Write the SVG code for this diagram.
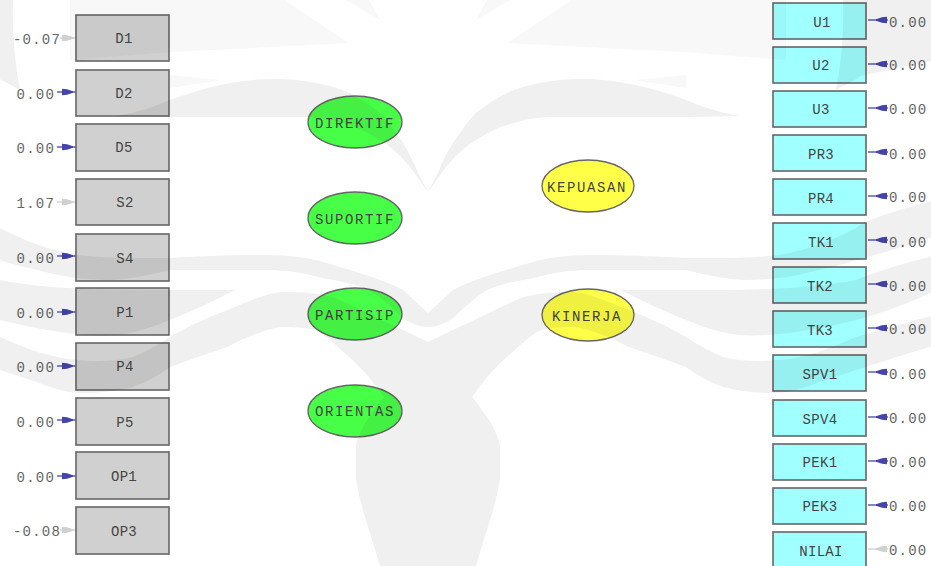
<svg xmlns="http://www.w3.org/2000/svg" width="931" height="566" viewBox="0 0 931 566">
<style>
text{font-family:"Liberation Mono","DejaVu Sans Mono",monospace;fill:#444;text-anchor:middle}
.l{font-size:14px;letter-spacing:.3px}
.o{font-size:14px;letter-spacing:1.6px}
.v{font-size:14px;letter-spacing:1.2px;fill:#666}
.vl{text-anchor:end}
.vr{text-anchor:start}
.g{fill:#d0d0d0;stroke:#666;stroke-width:1.6}
.c{fill:#a0ffff;stroke:#666;stroke-width:1.6}
.e1{fill:#48ff48;stroke:#666;stroke-width:1.3}
.e2{fill:#ffff48;stroke:#666;stroke-width:1.3}
.a{stroke:#44a;stroke-width:1.3;fill:none;marker-mid:url(#h)}
.b{stroke:#d0d0d0;stroke-width:1.3;fill:none;marker-mid:url(#k)}
</style>
<defs>
<marker id="h" markerUnits="userSpaceOnUse" markerWidth="12" markerHeight="8" refX="11" refY="4" orient="auto"><path d="M0,.8L5,1.2L11,3.2V4.8L5,6.8L0,7.2Z" fill="#44a"/></marker>
<marker id="k" markerUnits="userSpaceOnUse" markerWidth="12" markerHeight="8" refX="11" refY="4" orient="auto"><path d="M0,.8L5,1.2L11,3.2V4.8L5,6.8L0,7.2Z" fill="#d0d0d0"/></marker>
<g id="wm">
<path d="M116,116C140,112 155,106 170,100C205,87 240,79 273,79C300,79 322,83 342,90C355,95 368,103 380,113C396,130 410,152 418,173L428,192L410,167C400,155 390,146 380,140C368,132 355,126 342,123C330,119 316,117 303,117C280,117 255,117 227,117C190,117 150,117 116,116Z"/>
<path d="M-80,200C-40,210 -10,220 0,228C15,236 45,250 77,255C110,259 140,258 170,258C205,256 240,255 266,255C290,255 310,258 323,262C350,270 385,280 403,290L428,313L429,327H428C420,327 412,324 403,318C392,308 382,298 369,290C355,284 340,281 323,278C300,272 285,270 266,270C230,270 200,270 170,270C150,275 130,279 113,280C90,280 70,278 50,273C30,268 10,264 0,260C-30,252 -60,243 -80,235Z"/>
<path d="M-80,255C-50,263 -20,272 0,280C20,284 45,287 67,288C100,290 135,290 170,290L235,290C215,300 195,310 170,320C150,328 135,333 117,335C100,336 85,335 67,333C40,329 20,325 0,320C-30,312 -60,300 -80,290Z"/>
<path d="M-80,315C-50,322 -25,330 0,337C25,348 50,358 77,360C100,362 118,361 133,357C145,352 158,345 170,337C190,325 212,316 235,307C252,300 270,292 285,292C305,292 322,294 335,298C358,308 385,322 403,330L428,342H429V566H380C370,530 358,500 356,477V447C358,430 372,412 384,397C372,380 360,366 349,357C336,345 325,335 315,330C303,327 292,327 281,327C262,330 245,338 227,347C208,354 188,360 170,367C158,376 146,382 133,387C116,391 100,393 83,393C70,393 60,390 50,387C32,380 15,375 0,370C-25,362 -55,352 -80,345Z"/>
<path d="M-80,0H13C12,30 14,60 20,90C10,84 0,80 -5,76C-30,70 -60,65 -80,60Z"/>
</g>
<g id="wf">
<path d="M70,0H285L348,43L170,52L70,60Z"/>
<path d="M346,0L380,20L369,0Z"/>
<path d="M170,75L220,80L170,88Z"/>
</g>
</defs>
<rect width="931" height="566" fill="#fff"/>
<g id="connectors">
<polyline class="b" points="60,38 73,38 76,38"/>
<polyline class="a" points="57,92 73,92 76,92"/>
<polyline class="a" points="57,147 73,147 76,147"/>
<polyline class="b" points="57,202 73,202 76,202"/>
<polyline class="a" points="57,256 73,256 76,256"/>
<polyline class="a" points="57,312 73,312 76,312"/>
<polyline class="a" points="57,366 73,366 76,366"/>
<polyline class="a" points="57,420 73,420 76,420"/>
<polyline class="a" points="57,476 73,476 76,476"/>
<polyline class="b" points="60,530 73,530 76,530"/>
<polyline class="a" points="888,20 876,20 868,20"/>
<polyline class="a" points="888,64 876,64 868,64"/>
<polyline class="a" points="888,108 876,108 868,108"/>
<polyline class="a" points="888,152 876,152 868,152"/>
<polyline class="a" points="888,196 876,196 868,196"/>
<polyline class="a" points="888,240 876,240 868,240"/>
<polyline class="a" points="888,284 876,284 868,284"/>
<polyline class="a" points="888,328 876,328 868,328"/>
<polyline class="a" points="888,372 876,372 868,372"/>
<polyline class="a" points="888,417 876,417 868,417"/>
<polyline class="a" points="888,461 876,461 868,461"/>
<polyline class="a" points="888,505 876,505 868,505"/>
<polyline class="b" points="888,549 876,549 868,549"/>
</g>
<g id="D1"><rect class="g" x="76" y="15" width="93" height="46"/><text class="l" x="124" y="43">D1</text></g>
<g id="D2"><rect class="g" x="76" y="70" width="93" height="46"/><text class="l" x="124" y="98">D2</text></g>
<g id="D5"><rect class="g" x="76" y="124" width="93" height="47"/><text class="l" x="124" y="152">D5</text></g>
<g id="S2"><rect class="g" x="76" y="179" width="93" height="46"/><text class="l" x="125" y="207">S2</text></g>
<g id="S4"><rect class="g" x="76" y="234" width="93" height="47"/><text class="l" x="125" y="263">S4</text></g>
<g id="P1"><rect class="g" x="76" y="288" width="93" height="47"/><text class="l" x="125" y="317">P1</text></g>
<g id="P4"><rect class="g" x="76" y="343" width="93" height="47"/><text class="l" x="125" y="371">P4</text></g>
<g id="P5"><rect class="g" x="76" y="398" width="93" height="47"/><text class="l" x="125" y="427">P5</text></g>
<g id="OP1"><rect class="g" x="76" y="452" width="93" height="47"/><text class="l" x="124" y="481">OP1</text></g>
<g id="OP3"><rect class="g" x="76" y="507" width="93" height="47"/><text class="l" x="124" y="536">OP3</text></g>
<g id="U1"><rect class="c" x="773" y="3" width="93" height="36"/><text class="l" x="822" y="27">U1</text></g>
<g id="U2"><rect class="c" x="773" y="47" width="93" height="36"/><text class="l" x="821" y="70">U2</text></g>
<g id="U3"><rect class="c" x="773" y="91" width="93" height="36"/><text class="l" x="821" y="114">U3</text></g>
<g id="PR3"><rect class="c" x="773" y="135" width="93" height="36"/><text class="l" x="821" y="159">PR3</text></g>
<g id="PR4"><rect class="c" x="773" y="179" width="93" height="36"/><text class="l" x="821" y="203">PR4</text></g>
<g id="TK1"><rect class="c" x="773" y="223" width="93" height="36"/><text class="l" x="821" y="247">TK1</text></g>
<g id="TK2"><rect class="c" x="773" y="267" width="93" height="36"/><text class="l" x="820" y="291">TK2</text></g>
<g id="TK3"><rect class="c" x="773" y="311" width="93" height="36"/><text class="l" x="820" y="335">TK3</text></g>
<g id="SPV1"><rect class="c" x="773" y="355" width="93" height="36"/><text class="l" x="820" y="379">SPV1</text></g>
<g id="SPV4"><rect class="c" x="773" y="400" width="93" height="36"/><text class="l" x="820" y="424">SPV4</text></g>
<g id="PEK1"><rect class="c" x="773" y="444" width="93" height="36"/><text class="l" x="820" y="467">PEK1</text></g>
<g id="PEK3"><rect class="c" x="773" y="488" width="93" height="36"/><text class="l" x="820" y="511">PEK3</text></g>
<g id="NILAI"><rect class="c" x="773" y="532" width="93" height="37"/><text class="l" x="821" y="556">NILAI</text></g>
<g id="DIREKTIF"><ellipse class="e1" cx="355" cy="122" rx="47" ry="26"/><text class="o" x="355" y="128">DIREKTIF</text></g>
<g id="SUPORTIF"><ellipse class="e1" cx="355" cy="218" rx="47" ry="26"/><text class="o" x="355" y="224">SUPORTIF</text></g>
<g id="PARTISIP"><ellipse class="e1" cx="355" cy="314" rx="47" ry="26"/><text class="o" x="355" y="320">PARTISIP</text></g>
<g id="ORIENTAS"><ellipse class="e1" cx="355" cy="411" rx="47" ry="26"/><text class="o" x="355" y="416">ORIENTAS</text></g>
<g id="KEPUASAN"><ellipse class="e2" cx="588" cy="186" rx="46" ry="26"/><text class="o" x="587" y="192">KEPUASAN</text></g>
<g id="KINERJA"><ellipse class="e2" cx="588" cy="315" rx="46" ry="26"/><text class="o" x="587" y="321">KINERJA</text></g>
<g id="values">
<text class="v vl" x="61" y="44">-0.07</text>
<text class="v vl" x="55" y="99">0.00</text>
<text class="v vl" x="55" y="153">0.00</text>
<text class="v vl" x="55" y="208">1.07</text>
<text class="v vl" x="55" y="263">0.00</text>
<text class="v vl" x="55" y="318">0.00</text>
<text class="v vl" x="55" y="372">0.00</text>
<text class="v vl" x="55" y="427">0.00</text>
<text class="v vl" x="55" y="482">0.00</text>
<text class="v vl" x="61" y="536">-0.08</text>
<text class="v vr" x="889" y="27">0.00</text>
<text class="v vr" x="889" y="70">0.00</text>
<text class="v vr" x="889" y="114">0.00</text>
<text class="v vr" x="889" y="159">0.00</text>
<text class="v vr" x="889" y="202">0.00</text>
<text class="v vr" x="889" y="247">0.00</text>
<text class="v vr" x="889" y="291">0.00</text>
<text class="v vr" x="889" y="334">0.00</text>
<text class="v vr" x="889" y="379">0.00</text>
<text class="v vr" x="889" y="423">0.00</text>
<text class="v vr" x="889" y="467">0.00</text>
<text class="v vr" x="889" y="511">0.00</text>
<text class="v vr" x="889" y="555">0.00</text>
</g>
<g id="watermark" opacity=".055" fill="#000"><use href="#wm"/><use href="#wm" transform="matrix(-1 0 0 1 856 0)"/></g>
<g id="watermark-faint" opacity=".025" fill="#000"><use href="#wf"/><use href="#wf" transform="matrix(-1 0 0 1 856 0)"/></g>
</svg>
